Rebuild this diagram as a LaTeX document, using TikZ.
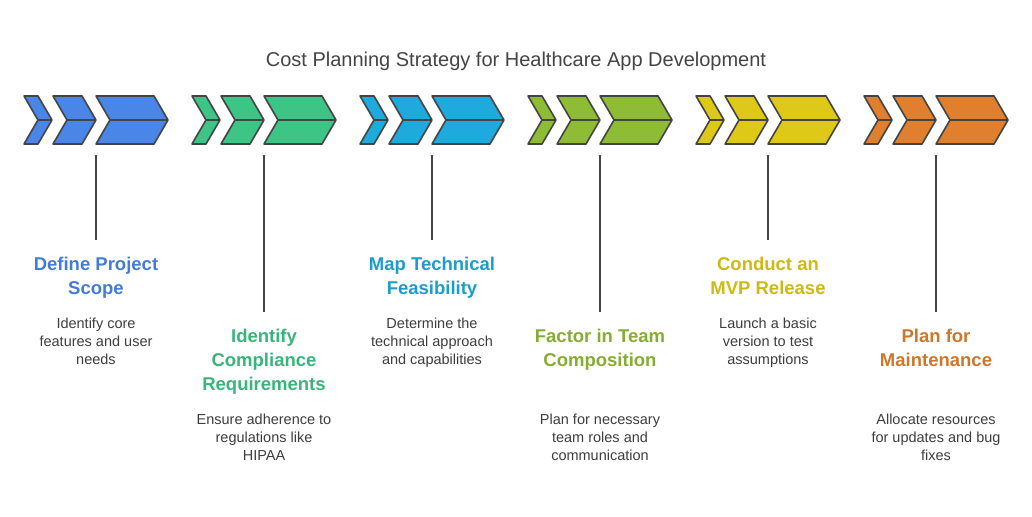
\documentclass[tikz,border=0pt]{standalone}
\usepackage{fontspec}
\setmainfont{Liberation Sans}
\definecolor{cBlue}{HTML}{4A86E8}
\definecolor{cGreen}{HTML}{3DC585}
\definecolor{cCyan}{HTML}{1EAADC}
\definecolor{cOlive}{HTML}{8FBC35}
\definecolor{cYellow}{HTML}{DFC918}
\definecolor{cOrange}{HTML}{E0802E}
\definecolor{edge}{HTML}{444444}
\tikzstyle{chev}=[draw=edge,line width=1.6pt,line join=round]
\tikzstyle{head}=[font=\fontsize{18.5}{24}\selectfont\bfseries,align=center,anchor=north]
\tikzstyle{desc}=[font=\fontsize{14.5}{18}\selectfont,text=edge!90!black,align=center,anchor=north]
\newcommand{\chevron}[3]{% x0, x1, fill
  \draw[chev,fill=#3] (#1,96) -- (#2-14,96) -- (#2,120) -- (#2-14,144) -- (#1,144) -- (#1+14,120) -- cycle;
  \draw[chev] (#1+14,120) -- (#2,120);}
\begin{document}
\begin{tikzpicture}[x=1pt,y=-1pt]
\useasboundingbox (0,0) rectangle (1032,516);
\node[font=\fontsize{20}{24}\selectfont,text=edge] (title) at (516,61) {Cost Planning Strategy for Healthcare App Development};
\foreach \i/\col/\hd/\ds in {0/cBlue/{Define Project\\Scope}/{Identify core\\features and user\\needs},
  1/cGreen/{Identify\\Compliance\\Requirements}/{Ensure adherence to\\regulations like\\HIPAA},
  2/cCyan/{Map Technical\\Feasibility}/{Determine the\\technical approach\\and capabilities},
  3/cOlive/{Factor in Team\\Composition}/{Plan for necessary\\team roles and\\communication},
  4/cYellow/{Conduct an\\MVP Release}/{Launch a basic\\version to test\\assumptions},
  5/cOrange/{Plan for\\Maintenance}/{Allocate resources\\for updates and bug\\fixes}}
{
  \pgfmathsetmacro{\ox}{168*\i}
  \pgfmathsetmacro{\cx}{96+\ox}
  \pgfmathsetmacro{\ly}{mod(\i,2)==0 ? 240 : 312}
  \pgfmathsetmacro{\hy}{mod(\i,2)==0 ? 254 : 326}
  \pgfmathsetmacro{\dy}{mod(\i,2)==0 ? 314 : 410}
  \chevron{24+\ox}{52+\ox}{\col}
  \chevron{53+\ox}{96+\ox}{\col}
  \chevron{96+\ox}{168+\ox}{\col}
  \coordinate (top\i) at (\cx,155);
  \coordinate (bot\i) at (\cx,\ly);
  \draw[edge,line width=1.6pt] (top\i) -- (bot\i);
  \node[head,text=\col!92!black] (head\i) at (\cx,\hy) {\hd};
  \node[desc] (desc\i) at (\cx,\dy) {\ds};
}
\end{tikzpicture}
\end{document}
